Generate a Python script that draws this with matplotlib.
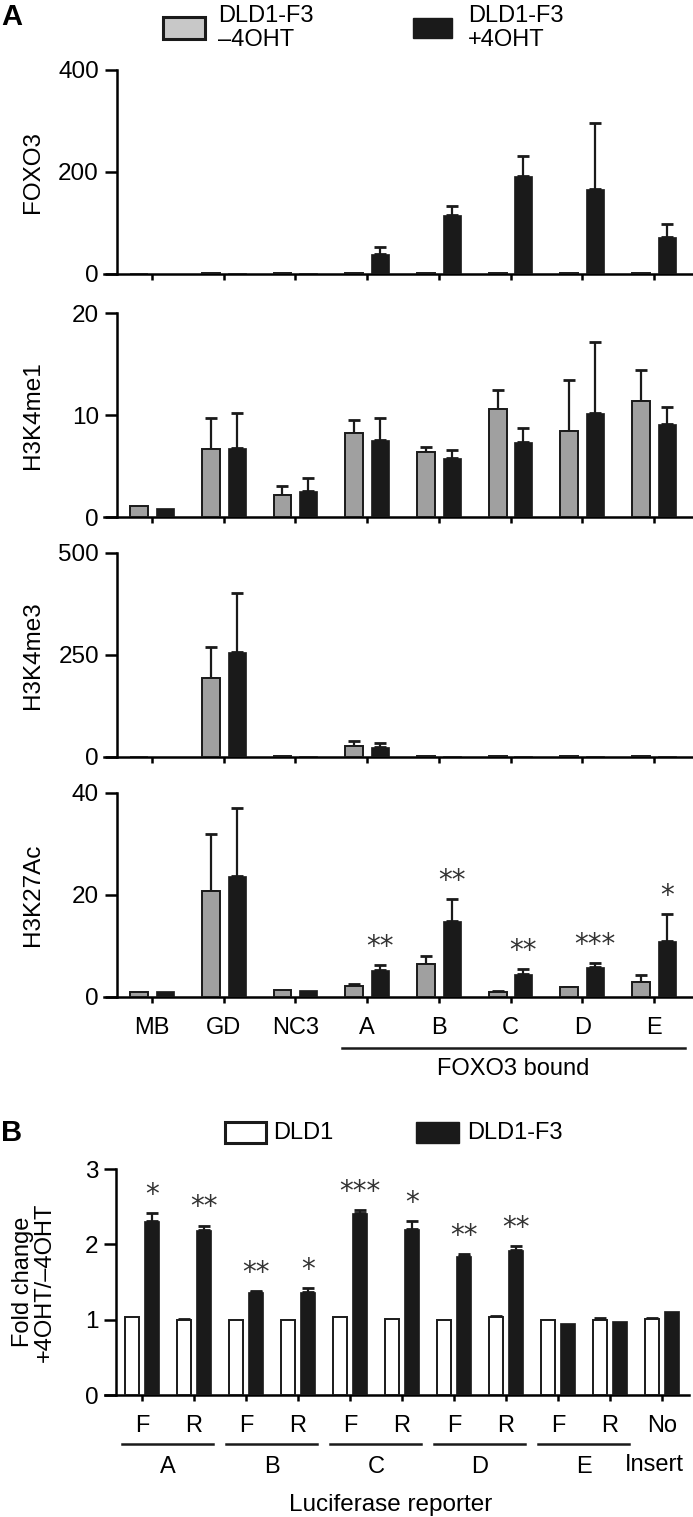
import numpy as np
import matplotlib
matplotlib.use("Agg")
import matplotlib.pyplot as plt
from matplotlib.patches import Rectangle

plt.rcParams['font.family'] = ['Liberation Sans', 'DejaVu Sans']
plt.rcParams['font.size'] = 17
FS = 17

# ---------------- data: panel A (ChIP) ----------------
sites = ['MB', 'GD', 'NC3', 'A', 'B', 'C', 'D', 'E']

foxo3_minus = [0.5, 2, 1, 2, 2, 2, 2, 1]
foxo3_minus_err = [0, 0, 0, 0, 0, 0, 0, 0]
foxo3_plus = [0.5, 2, 2, 40, 116, 192, 166, 73]
foxo3_plus_err = [0, 0, 0, 13, 18, 40, 131, 26]

k4me1_minus = [1.04, 6.68, 2.18, 8.27, 6.42, 10.59, 8.4, 11.4]
k4me1_minus_err = [0, 3.05, 0.82, 1.23, 0.48, 1.88, 5.08, 3.03]
k4me1_plus = [0.91, 6.77, 2.57, 7.52, 5.76, 7.33, 10.16, 9.12]
k4me1_plus_err = [0, 3.39, 1.21, 2.15, 0.79, 1.37, 7.0, 1.63]

k4me3_minus = [0.5, 193, 2, 26, 2, 2, 2, 3]
k4me3_minus_err = [0, 76, 0, 13, 0, 0, 0, 0]
k4me3_plus = [0.5, 257, 2, 25, 2, 3, 2, 3]
k4me3_plus_err = [0, 144, 0, 10, 0, 0, 0, 0]

k27ac_minus = [0.98, 20.85, 1.38, 2.23, 6.43, 0.98, 1.9, 2.95]
k27ac_minus_err = [0, 11.05, 0, 0.27, 1.57, 0.27, 0.13, 1.45]
k27ac_plus = [1.1, 23.7, 1.31, 5.25, 14.9, 4.52, 5.9, 10.9]
k27ac_plus_err = [0, 13.3, 0, 1.11, 4.3, 0.98, 0.85, 5.3]
k27ac_sig = ['', '', '', '**', '**', '**', '***', '*']

panels_a = [
    ('FOXO3', 400, [0, 200, 400], foxo3_minus, foxo3_minus_err, foxo3_plus, foxo3_plus_err, None),
    ('H3K4me1', 20, [0, 10, 20], k4me1_minus, k4me1_minus_err, k4me1_plus, k4me1_plus_err, None),
    ('H3K4me3', 500, [0, 250, 500], k4me3_minus, k4me3_minus_err, k4me3_plus, k4me3_plus_err, None),
    ('H3K27Ac', 40, [0, 20, 40], k27ac_minus, k27ac_minus_err, k27ac_plus, k27ac_plus_err, k27ac_sig),
]

# ---------------- data: panel B (luciferase) ----------------
reporter_ticks = ['F', 'R', 'F', 'R', 'F', 'R', 'F', 'R', 'F', 'R', 'No']
reporter_groups = ['A', 'B', 'C', 'D', 'E']
dld1 = [1.03, 0.99, 1.0, 1.0, 1.04, 1.01, 0.99, 1.035, 0.99, 1.0, 1.01]
dld1_err = [0, 0.02, 0, 0, 0, 0, 0, 0.02, 0, 0.02, 0.01]
dld1_f3 = [2.31, 2.19, 1.37, 1.37, 2.42, 2.21, 1.84, 1.925, 0.96, 0.98, 1.11]
dld1_f3_err = [0.1, 0.06, 0.01, 0.05, 0.04, 0.1, 0.03, 0.05, 0, 0, 0]
reporter_sig = ['*', '**', '**', '*', '***', '*', '**', '**', '', '', '']

BLACK = '#1a1a1a'
GRAY = '#a0a0a0'
LEGGRAY = '#c8c8c8'

W, H = 693, 1517
fig = plt.figure(figsize=(W / 100, H / 100), dpi=100)


def px_axes(left, right, top, bottom):
    return fig.add_axes([left / W, 1 - bottom / H, (right - left) / W, (bottom - top) / H])


def style_axes(ax, spine_x):
    for s in ['top', 'right']:
        ax.spines[s].set_visible(False)
    ax.spines['left'].set_position(('data', spine_x))
    ax.spines['left'].set_linewidth(1.8)
    ax.spines['bottom'].set_linewidth(1.8)
    ax.tick_params(axis='y', length=9, width=1.8, pad=4, labelsize=FS + 0.5)
    ax.tick_params(axis='x', length=4.5, width=1.8, pad=10, labelsize=FS)


def draw_bars(ax, x, vals, errs, off, width, face, edge, lw):
    x = np.asarray(x, float) + off
    vals = np.asarray(vals, float)
    errs = np.asarray(errs, float)
    ax.bar(x, vals, width, color=face, edgecolor=edge, linewidth=lw, zorder=3)
    m = errs > 0
    if m.any():
        ax.errorbar(x[m], vals[m], yerr=[np.zeros(m.sum()), errs[m]], fmt='none',
                    ecolor=BLACK, elinewidth=1.6, capsize=4.5, capthick=2.0, zorder=2)
    return x, vals + errs


def stars(ax, x, tops, sig):
    for xi, ti, s in zip(x, tops, sig):
        if s:
            ax.annotate(s, xy=(xi, ti), xytext=(0, 13), textcoords='offset points',
                        ha='center', va='center', fontsize=20, family='DejaVu Sans',
                        color='#333333', annotation_clip=False)


# ---------------- panel A ----------------
xa = np.arange(len(sites))
rows_px = [(70, 274), (313, 517), (553, 757), (793, 997)]
for (top, bot), (name, ymax, yt, mv, me, pv, pe, sig) in zip(rows_px, panels_a):
    ax = px_axes(104, 693, top, bot)
    draw_bars(ax, xa, mv, me, -0.18, 0.25, GRAY, BLACK, 1.4)
    xp, tp = draw_bars(ax, xa, pv, pe, 0.18, 0.25, BLACK, BLACK, 0.5)
    if sig:
        stars(ax, xp, tp, sig)
    ax.set_xlim(-0.669, 7.545)
    ax.set_ylim(0, ymax)
    ax.set_yticks(yt)
    ax.set_xticks(xa)
    style_axes(ax, -0.488)
    ax.set_ylabel(name, va='center', fontsize=FS + 0.5)
    ax.yaxis.set_label_coords(-0.1205, 0.5)
    if name == 'H3K27Ac':
        ax.set_xticklabels(sites)
        trans = ax.get_xaxis_transform()
        ax.plot([2.65, 7.43], [-0.25, -0.25], color=BLACK, lw=1.8, transform=trans, clip_on=False)
        ax.text(5.04, -0.353, 'FOXO3 bound', transform=trans, ha='center', va='center', fontsize=FS)
    else:
        ax.set_xticklabels([])

# legend A
fig.text(12 / W, 1 - 17 / H, 'A', fontsize=21, fontweight='bold', ha='center', va='center')
fig.patches.append(Rectangle((163 / W, 1 - 39 / H), 42 / W, 22 / H, transform=fig.transFigure,
                             facecolor=LEGGRAY, edgecolor=BLACK, linewidth=2.2))
fig.text(218 / W, 1 - 28 / H, 'DLD1-F3\n\u20134OHT', ha='left', va='center', fontsize=FS, linespacing=1.1)
fig.patches.append(Rectangle((413 / W, 1 - 38 / H), 39 / W, 20 / H, transform=fig.transFigure,
                             facecolor=BLACK, edgecolor=BLACK, linewidth=1))
fig.text(468 / W, 1 - 28 / H, 'DLD1-F3\n+4OHT', ha='left', va='center', fontsize=FS, linespacing=1.1)

# ---------------- panel B ----------------
xb = np.arange(len(reporter_ticks))
axb = px_axes(104.5, 689, 1169, 1395)
draw_bars(axb, xb, dld1, dld1_err, -0.19, 0.27, 'white', BLACK, 1.4)
xp, tp = draw_bars(axb, xb, dld1_f3, dld1_f3_err, 0.19, 0.29, BLACK, BLACK, 0.5)
stars(axb, xp, tp, reporter_sig)
axb.set_xlim(-0.72, 10.52)
axb.set_ylim(0, 3)
axb.set_yticks([0, 1, 2, 3])
axb.set_xticks(xb)
axb.set_xticklabels(reporter_ticks)
style_axes(axb, -0.49)
axb.set_ylabel('Fold change\n+4OHT/\u20134OHT', va='center', fontsize=FS, linespacing=0.95)
axb.yaxis.set_label_coords(-0.1206, 0.5)
tb = axb.get_xaxis_transform()
for i, g in enumerate(reporter_groups):
    c = 2 * i + 0.5
    axb.plot([c - 0.875, c + 0.875], [-0.217, -0.217], color=BLACK, lw=1.8, transform=tb, clip_on=False)
    axb.text(c, -0.319, g, transform=tb, ha='center', va='center', fontsize=FS)
axb.text(9.86, -0.31, 'Insert', transform=tb, ha='center', va='center', fontsize=FS)
axb.text(0.49, -0.487, 'Luciferase reporter', transform=axb.transAxes, ha='center', va='center', fontsize=FS + 0.5)

fig.text(12 / W, 1 - 1133 / H, 'B', fontsize=21, fontweight='bold', ha='center', va='center')
fig.patches.append(Rectangle((225 / W, 1 - 1143 / H), 41 / W, 21 / H, transform=fig.transFigure,
                             facecolor='white', edgecolor=BLACK, linewidth=2.2))
fig.text(273 / W, 1 - 1133 / H, 'DLD1', ha='left', va='center', fontsize=FS)
fig.patches.append(Rectangle((416 / W, 1 - 1143 / H), 43 / W, 21 / H, transform=fig.transFigure,
                             facecolor=BLACK, edgecolor=BLACK, linewidth=1))
fig.text(467 / W, 1 - 1133 / H, 'DLD1-F3', ha='left', va='center', fontsize=FS)

fig.savefig('out.png', dpi=100)
